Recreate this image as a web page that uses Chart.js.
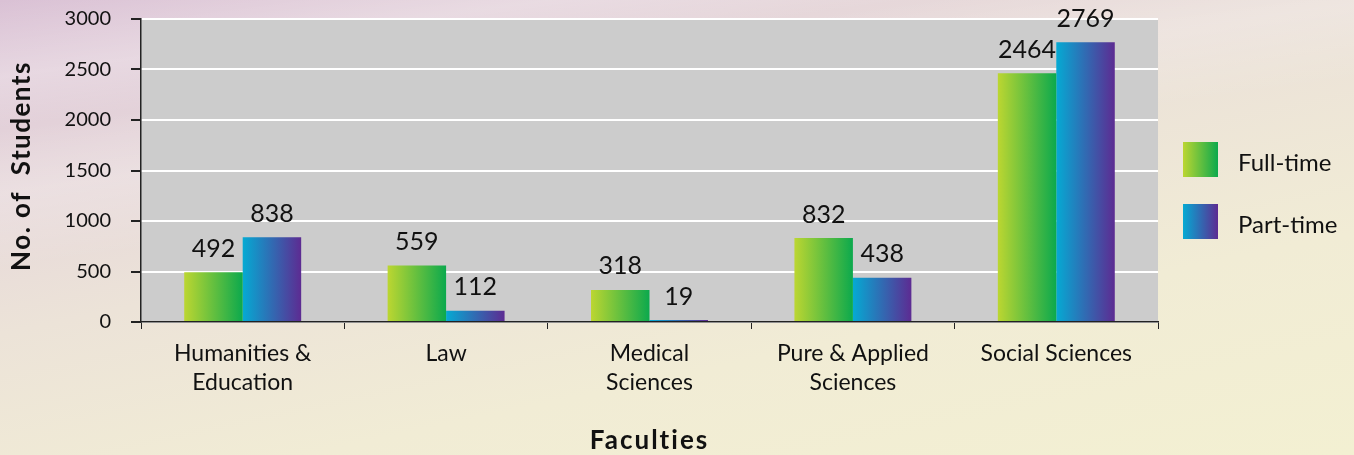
<!DOCTYPE html>
<html>
<head>
<meta charset="utf-8">
<script src="https://cdn.jsdelivr.net/npm/chart.js@4.4.1/dist/chart.umd.min.js"></script>
<style>
html, body { margin: 0; padding: 0; }
body {
	width: 1354px; height: 455px; overflow: hidden;
	background:
		linear-gradient(172deg, rgba(255,255,255,0) 0%, rgba(255,255,255,0.25) 12%, rgba(255,255,255,0) 20%, rgba(255,255,255,0.2) 30%, rgba(255,255,255,0) 42%),
		linear-gradient(168deg, #dac1d5 0%, #e5d5da 22%, #ece3d8 45%, #f1ecd5 70%, #f3f0d2 100%);
}
#wrap { position: absolute; left: 0; top: 0; width: 1354px; height: 455px; }
</style>
</head>
<body>
<div id="wrap"><canvas id="barChart"></canvas></div>
<script>
var faculties = [['Humanities &', 'Education'], 'Law', ['Medical', 'Sciences'], ['Pure & Applied', 'Sciences'], 'Social Sciences'];
var fullTime = [492, 559, 318, 832, 2464];
var partTime = [838, 112, 19, 438, 2769];
var yTicks = [0, 500, 1000, 1500, 2000, 2500, 3000];

var FONT = 'Lato, "Open Sans", sans-serif';
var GROUP = 0.575;
var gradColors = [['#bcd631', '#0ca94d'], ['#05aad3', '#5d2b92']];

function barFill(ctx) {
	var chart = ctx.chart;
	var xs = chart.scales.x;
	var fallback = gradColors[ctx.datasetIndex][1];
	if (!xs || !chart.chartArea || ctx.dataIndex === undefined) return fallback;
	var center = xs.getPixelForValue(ctx.dataIndex);
	var half = xs.width / faculties.length * GROUP / 2;
	var x0 = ctx.datasetIndex === 0 ? center - half : center;
	var g = chart.ctx.createLinearGradient(x0, 0, x0 + half, 0);
	g.addColorStop(0, gradColors[ctx.datasetIndex][0]);
	g.addColorStop(1, gradColors[ctx.datasetIndex][1]);
	return g;
}

var decor = {
	id: 'decor',
	beforeDraw: function(chart) {
		var c = chart.ctx, a = chart.chartArea;
		c.save();
		c.fillStyle = '#cccccc';
		c.fillRect(a.left, a.top, a.right - a.left, a.bottom - a.top);
		c.restore();
	},
	afterDatasetsDraw: function(chart) {
		var c = chart.ctx;
		c.save();
		c.fillStyle = '#111';
		c.font = '25px ' + FONT;
		c.textAlign = 'center';
		c.textBaseline = 'bottom';
		chart.data.datasets.forEach(function(ds, di) {
			chart.getDatasetMeta(di).data.forEach(function(bar, i) {
				c.fillText(String(ds.data[i]), bar.x, bar.y - 11);
			});
		});
		c.restore();
	},
	afterDraw: function(chart) {
		var c = chart.ctx, a = chart.chartArea;
		c.save();
		c.fillStyle = '#111';
		c.textAlign = 'center';
		c.textBaseline = 'middle';
		c.letterSpacing = '1.5px';
		c.font = 'bold 26px ' + FONT;
		c.save();
		c.translate(22, 166);
		c.rotate(-Math.PI / 2);
		c.fillText('No. of  Students', 0, 0);
		c.restore();
		c.letterSpacing = '2px';
		c.fillText('Faculties', (a.left + a.right) / 2, 441);
		c.letterSpacing = '0px';
		// legend
		var names = ['Full-time', 'Part-time'];
		var ys = [142, 204];
		c.font = '24px ' + FONT;
		c.textAlign = 'left';
		names.forEach(function(n, i) {
			var g = c.createLinearGradient(1183, 0, 1218, 0);
			g.addColorStop(0, gradColors[i][0]);
			g.addColorStop(1, gradColors[i][1]);
			c.fillStyle = g;
			c.fillRect(1183, ys[i], 35, 35);
			c.fillStyle = '#111';
			c.fillText(n, 1238, ys[i] + 21);
		});
		c.restore();
	}
};

new Chart(document.getElementById('barChart').getContext('2d'), {
	type: 'bar',
	data: {
		labels: faculties,
		datasets: [
			{ label: 'Full-time', data: fullTime, backgroundColor: barFill },
			{ label: 'Part-time', data: partTime, backgroundColor: barFill }
		]
	},
	options: {
		responsive: true,
		maintainAspectRatio: false,
		animation: false,
		categoryPercentage: GROUP,
		barPercentage: 1,
		layout: { padding: { left: 0, right: 196, top: 19, bottom: 0 } },
		plugins: { legend: { display: false }, tooltip: { enabled: false } },
		scales: {
			x: {
				afterFit: function(s) { s.height = 133; s.paddingLeft = 0; s.paddingRight = 0; },
				grid: { drawOnChartArea: false, tickLength: 7, tickColor: '#222', offset: true },
				border: { color: '#222', width: 1.5 },
				ticks: { color: '#111', padding: 11, font: { family: FONT, size: 23, lineHeight: 1.22 }, maxRotation: 0, autoSkip: false }
			},
			y: {
				min: 0, max: 3000,
				afterFit: function(s) { s.width = 141; s.paddingTop = 0; s.paddingBottom = 0; },
				afterBuildTicks: function(s) { s.ticks = yTicks.map(function(v) { return { value: v }; }); },
				grid: { color: '#ffffff', lineWidth: 2, tickLength: 10, tickColor: '#222' },
				border: { color: '#222', width: 1.5 },
				ticks: { color: '#111', padding: 20, font: { family: FONT, size: 20 }, callback: function(v) { return String(v); } }
			}
		}
	},
	plugins: [decor]
});
</script>
</body>
</html>
